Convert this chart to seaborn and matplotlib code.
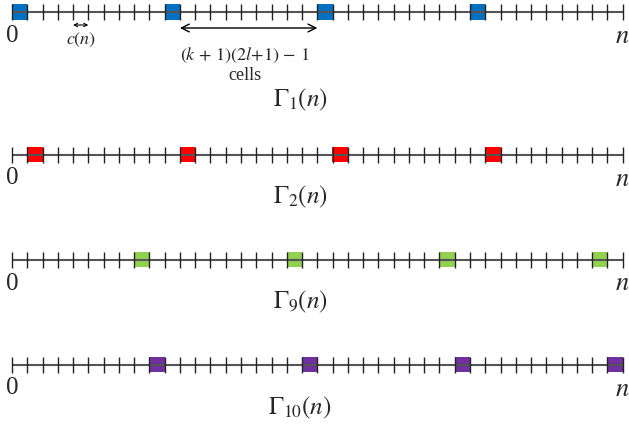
import pandas as pd
import matplotlib
matplotlib.use("Agg")
import matplotlib.pyplot as plt
import seaborn as sns

# cells along each line, and which cells are marked in each schedule
n_cells = 40
row_names = ["Gamma1", "Gamma2", "Gamma9", "Gamma10"]
row_titles = [r"$\Gamma_1(n)$", r"$\Gamma_2(n)$", r"$\Gamma_9(n)$", r"$\Gamma_{10}(n)$"]
gamma1_cells = [0, 10, 20, 30]
gamma2_cells = [1, 11, 21, 31]
gamma9_cells = [8, 18, 28, 38]
gamma10_cells = [9, 19, 29, 39]
row_colors = ["#0070C0", "#FF0000", "#92D050", "#7030A0"]

# vertical pixel position of each line
row_y = [12, 154.5, 259.5, 364.5]
title_y = [100, 197, 302, 408]

sns.set_style("white")
plt.rcParams["font.family"] = ["Liberation Serif", "DejaVu Serif"]
plt.rcParams["mathtext.fontset"] = "stix"

rows = []
for name, cells, y in zip(row_names, [gamma1_cells, gamma2_cells, gamma9_cells, gamma10_cells], row_y):
    for c in cells:
        rows.append({"row": name, "mid": c + 0.5, "y": y})
df = pd.DataFrame(rows)

fig = plt.figure(figsize=(6.29, 4.26), dpi=100)
ax = fig.add_axes([0, 0, 1, 1])
px = 15.2675  # pixels per cell
ax.set_xlim(-12 / px, (629 - 12) / px)
ax.set_ylim(426, 0)
ax.axis("off")

sns.scatterplot(data=df, x="mid", y="y", hue="row", palette=row_colors,
                marker="s", s=(15.6 * 0.72) ** 2, linewidth=0, legend=False,
                ax=ax, zorder=1)

for y in row_y:
    ax.hlines(y, 0, n_cells, color="#555555", lw=1.5, zorder=2)
    ax.vlines(range(n_cells + 1), y - 8, y + 8, color="#222222", lw=1, zorder=3)
    ax.text(0, y + 24, "0", ha="center", va="center", fontsize=18)
    ax.text(n_cells - 0.05, y + 25, r"$n$", ha="center", va="center", fontsize=19)

for y, title in zip(title_y, row_titles):
    ax.text((300 - 12) / px, y, title, ha="center", va="center", fontsize=18)

# annotations on the first line
ax.annotate("", xy=(4, 25), xytext=(5, 25),
            arrowprops=dict(arrowstyle="<->", lw=0.8, color="black",
                            shrinkA=0, shrinkB=0, mutation_scale=6))
ax.text(4.55, 40, r"$c(n)$", ha="center", va="center", fontsize=13)
ax.annotate("", xy=(11, 28), xytext=(20, 28),
            arrowprops=dict(arrowstyle="<->", lw=1, color="black",
                            shrinkA=0, shrinkB=0, mutation_scale=14))
ax.text((245 - 12) / px, 55, r"$(k\,+\,1)(2l{+}1)\,-\,1$", ha="center", va="center", fontsize=13)
ax.text((245 - 12) / px, 75, "cells", ha="center", va="center", fontsize=13)

fig.savefig("out.png", dpi=100)
